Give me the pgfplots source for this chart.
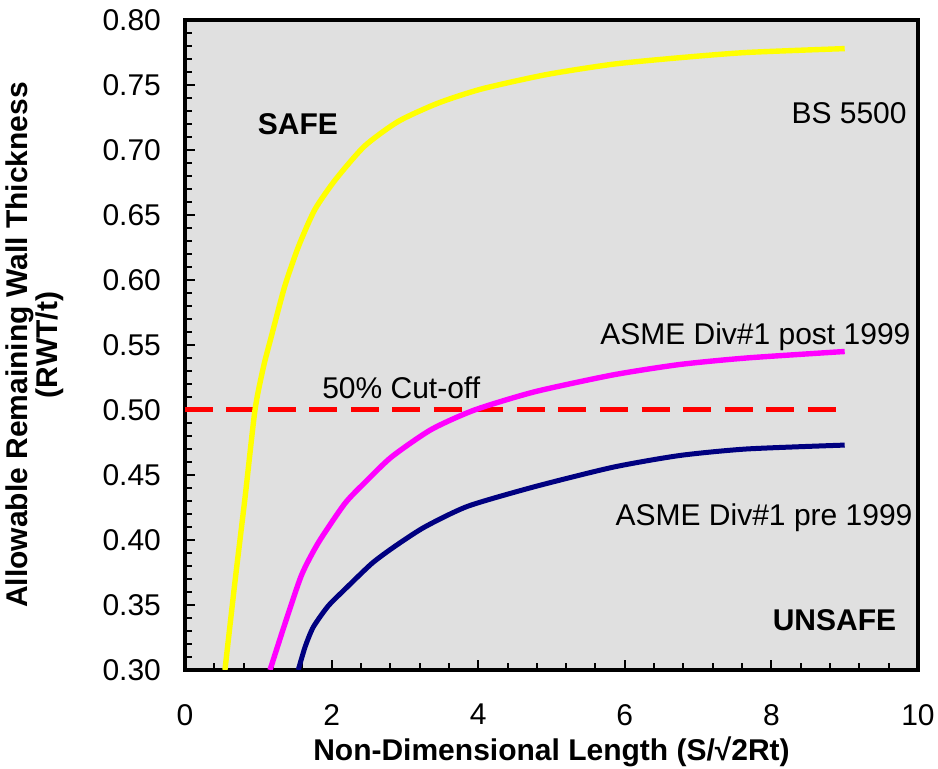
\documentclass[border=0pt]{standalone}
\usepackage{fontspec}
\setmainfont{Liberation Sans}
\usepackage{pgfplots}
\pgfplotsset{compat=1.18}
\definecolor{bggray}{RGB}{224,224,224}
\definecolor{navyc}{RGB}{0,0,128}
\definecolor{yel}{RGB}{255,255,0}
\definecolor{mag}{RGB}{255,0,255}
\newcommand{\fs}{\fontsize{15}{18}\selectfont}
\begin{document}
\begin{tikzpicture}
\useasboundingbox (-92.5pt,-49.5pt) rectangle (376.5pt,335pt);
\begin{axis}[
  scale only axis, width=366.5pt, height=325pt,
  xmin=0, xmax=10, ymin=0.30, ymax=0.80,
  axis background/.style={fill=bggray},
  axis line style={line width=1.8pt, black},
  xtick={0,2,4,6,8,10},
  ytick={0.30,0.35,0.40,0.45,0.50,0.55,0.60,0.65,0.70,0.75,0.80},
  minor x tick num=4, minor y tick num=4,
  tick align=inside, xtick pos=lower, ytick pos=left,
  major tick length=5pt, minor tick length=3.5pt,
  tick style={line width=1pt, black},
  /pgf/number format/assume math mode=true,
  tick label style={font=\fs},
  yticklabel style={/pgf/number format/.cd, fixed, fixed zerofill, precision=2, /tikz/.cd, xshift=-8.5pt},
  xticklabel style={/pgf/number format/.cd, fixed, /tikz/.cd, yshift=-13.5pt},
  xlabel={Non-Dimensional Length (S/√2Rt)},
  xlabel style={font=\fs\bfseries, at={(axis description cs:0.5,-0.1385)}, anchor=base},
  ylabel={Allowable Remaining Wall Thickness\\(RWT/t)},
  ylabel style={font=\bfseries\fontsize{15}{14}\selectfont, align=center, at={(axis description cs:-0.1651,0.5)}, anchor=south, inner sep=0pt},
  clip=true,
]
\addplot[red, line width=2.5pt, dash pattern=on 14pt off 6.75pt] coordinates {(0,0.5) (9,0.5)};
\addplot[yel, line width=2.7pt, line join=round, smooth, tension=0.4] coordinates {
(0.545,0.300) (0.68,0.367) (0.82,0.433) (0.955,0.500) (1.07,0.533) (1.18,0.557) (1.36,0.595) (1.55,0.626) (1.77,0.654) (2.05,0.677) (2.45,0.703) (2.91,0.722) (3.45,0.736) (4.05,0.747) (4.93,0.758) (5.84,0.766) (6.75,0.771) (7.66,0.775) (9.0,0.778)};
\addplot[mag, line width=2.7pt, line join=round, smooth, tension=0.4] coordinates {
(1.16,0.300) (1.36,0.335) (1.59,0.373) (1.82,0.398) (2.18,0.428) (2.45,0.444) (2.82,0.464) (3.36,0.485) (3.95,0.500) (4.77,0.514) (5.84,0.527) (6.75,0.535) (7.66,0.540) (9.0,0.545)};
\addplot[navyc, line width=2.5pt, line join=round, smooth, tension=0.4] coordinates {
(1.545,0.300) (1.64,0.318) (1.75,0.333) (1.95,0.349) (2.18,0.362) (2.55,0.382) (2.86,0.395) (3.27,0.410) (3.86,0.426) (4.77,0.441) (5.84,0.456) (6.75,0.465) (7.66,0.470) (9.0,0.473)};
\node[font=\fs\bfseries, inner sep=0pt] at (axis cs:1.54,0.72) {SAFE};
\node[font=\fs, inner sep=0pt] at (axis cs:9.06,0.7285) {BS 5500};
\node[font=\fs\bfseries, inner sep=0pt] at (axis cs:8.86,0.338) {UNSAFE};
\node[font=\fs, inner sep=0pt] at (axis cs:2.95,0.517) {50\% Cut-off};
\node[font=\fs, inner sep=0pt, anchor=west] at (axis cs:5.66,0.556) {ASME Div\#1 post 1999};
\node[font=\fs, inner sep=0pt, anchor=west] at (axis cs:5.87,0.417) {ASME Div\#1 pre 1999};
\end{axis}
\end{tikzpicture}
\end{document}
